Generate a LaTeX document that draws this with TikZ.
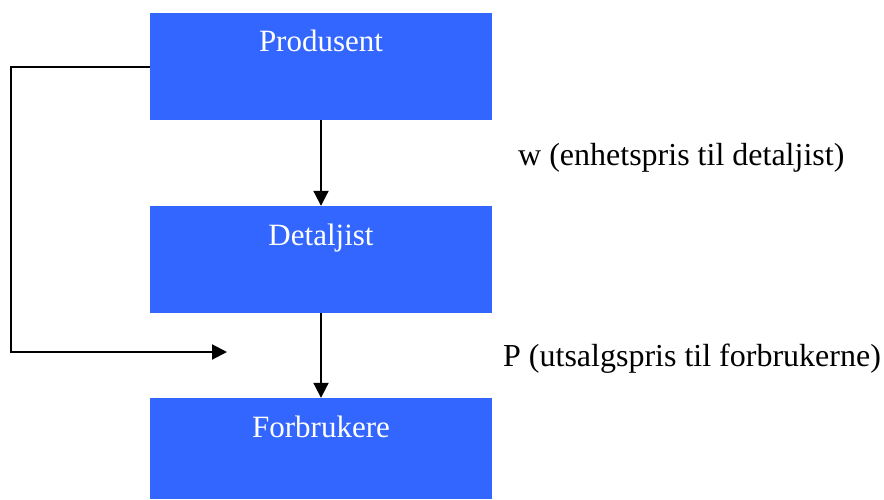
\documentclass[tikz,border=0pt]{standalone}
\usepackage{fontspec}
\setmainfont{Liberation Serif}
\usetikzlibrary{arrows.meta}
\definecolor{boxblue}{RGB}{51,102,255}
\tikzset{
  box/.style={rectangle, fill=boxblue, draw=none, inner sep=0pt, minimum width=342pt},
  boxlabel/.style={text=white, font=\fontsize{31}{36}\selectfont, inner sep=0pt, anchor=base},
  pricelabel/.style={text=black, font=\fontsize{32}{38}\selectfont, inner sep=0pt, anchor=base west},
  arr/.style={line width=2pt, line join=miter, -{Triangle[length=15pt,width=15pt]}}
}
\begin{document}
\begin{tikzpicture}[x=1pt,y=-1pt]
\useasboundingbox (0,0) rectangle (884,499);
\node[box, minimum height=107pt] (prod) at (321,66.5) {};
\node[box, minimum height=107pt] (det) at (321,259.5) {};
\node[box, minimum height=101pt] (forb) at (321,448.5) {};
\node[boxlabel] (prodt) at (321,51.7) {Produsent};
\node[boxlabel] (dett) at (321,245) {Detaljist};
\node[boxlabel] (forbt) at (321,437) {Forbrukere};
\node[pricelabel] (wlab) at (518,165.7) {w (enhetspris til detaljist)};
\node[pricelabel] (plab) at (503,366.7) {P (utsalgspris til forbrukerne)};
\coordinate (ptip) at (227,352);
\coordinate (corner) at (11,66.5);
\draw[arr] (prod.south) -- (det.north);
\draw[arr] (det.south) -- (forb.north);
\draw[arr] (prod.west) -- (corner) |- (ptip);
\end{tikzpicture}
\end{document}
